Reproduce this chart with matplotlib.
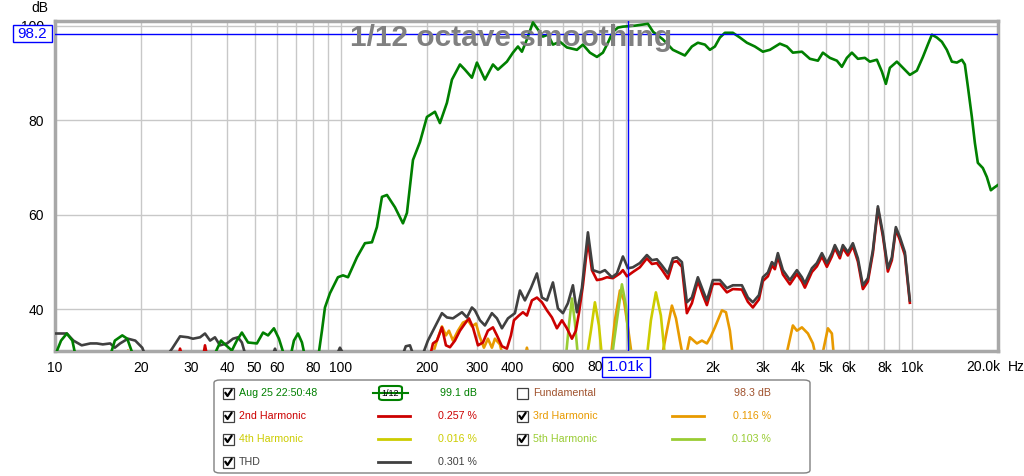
import matplotlib
matplotlib.use("Agg")
import matplotlib.pyplot as plt
from matplotlib.patches import Rectangle, FancyBboxPatch
from matplotlib.lines import Line2D

plt.rcParams['font.family'] = ['Liberation Sans', 'DejaVu Sans']

# --- Datos (Hz, dB) ---
meas_f = [10, 10.5, 11.0, 11.5, 11.8, 15.6, 16.2, 17.2, 17.9, 18.8, 36.0, 38.1, 39.7, 41.6,
          43.3, 45.1, 47.4, 50.9, 53.5, 55.7, 58.4, 60.8, 62.8, 63.8, 66.5, 68.6, 70.9, 73.2,
          75.0, 83.3, 86.0, 88.1, 91.7, 97.8, 101.9, 106.1, 114, 121.6, 128.7, 133.9, 139.5,
          145.2, 154.9, 165.2, 170.6, 179.1, 189.5, 200.4, 213.8, 222.6, 235.5, 245.2, 261.6,
          272.3, 288, 299.9, 319.9, 341.2, 355.3, 381.9, 400.9, 417.4, 431, 448.7, 471, 490.4,
          510.5, 531.5, 553.4, 585.5, 619.4, 671.4, 704.7, 745.6, 788.9, 827.9, 862, 897.4,
          934.3, 972.8, 1071, 1190, 1241, 1343, 1455, 1603, 1696, 1780, 1884, 1961, 2042,
          2126, 2213, 2360, 2497, 2642, 2818, 3006, 3181, 3447, 3648, 3828, 4117, 4391, 4684,
          4875, 5158, 5458, 5682, 5916, 6160, 6465, 6839, 7120, 7534, 7845, 8102, 8367, 8851,
          9290, 9828, 10400, 10920, 11360, 11740, 12220, 12720, 13240, 13790, 14360, 14950,
          15310, 15690, 16200, 16600, 17000, 17700, 18280, 18880, 19340, 19980]
meas_db = [30.2, 33.4, 34.9, 33.4, 30.2, 30.2, 33.4, 34.5, 33.8, 30.2, 30.2, 33.4, 32.4, 31.3,
           33.4, 35.1, 33.0, 32.8, 35.1, 34.5, 36.0, 33.8, 31.1, 29.6, 29.6, 33.4, 34.9, 33.0,
           30.0, 29.6, 35.5, 40.4, 43.4, 46.8, 47.2, 46.8, 51.0, 54.0, 54.2, 57.4, 63.8,
           64.2, 61.6, 58.2, 60.4, 71.6, 75.4, 80.7, 81.8, 79.4, 83.7, 88.6, 91.8,
           90.7, 89.0, 92.2, 88.6, 91.8, 90.7, 92.4, 94.3, 95.6, 94.5, 97.1, 100.7, 99.2,
           97.7, 98.1, 96.0, 96.6, 95.4, 94.9, 96.0, 94.3, 93.4, 94.3, 96.4, 98.7,
           99.6, 99.8, 100.0, 100.4, 98.7, 97.1, 94.9, 93.7, 95.6, 96.4, 96.0, 94.9, 95.6,
           97.5, 98.5, 98.5, 97.5, 96.4, 95.6, 94.5, 94.9, 96.2, 95.6, 94.3, 94.5, 93.0, 92.6,
           94.3, 93.2, 92.6, 91.3, 93.2, 94.3, 93.0, 93.2, 92.4, 92.8, 90.3, 87.7, 91.1, 92.4,
           91.1, 89.6, 90.5, 93.4, 96.0, 98.1, 97.5, 96.6, 94.9, 92.4, 92.2, 92.8,
           91.8, 87.1, 80.7, 75.2, 71.0, 69.9, 68.0, 65.2, 65.7, 66.3]

thd_f = [10, 11.0, 11.6, 12.4, 13.3, 14.0, 14.7, 15.6, 16.2, 16.9, 18.0, 19.1, 20.2, 20.8,
         24.5, 25.7, 27.4, 29.2, 30.4, 32.2, 33.5, 34.9, 36.3, 37.8, 40.0, 42.0, 43.7, 45.1,
         46.6, 57.5, 58.9, 60.3, 96.3, 99.4, 103.5, 164, 169, 174.8, 180.5, 192.5, 202,
         210.4, 226.2, 235.5, 247.2, 265.8, 276.7, 288, 295.1, 307.2, 319.9, 338.4, 352.4,
         366.9, 385.1, 407.4, 424.2, 441.6, 463.4, 486.4, 506.4, 527.2, 553.4, 576.2, 599.8,
         624.4, 650.1, 671.4, 698.9, 733.7, 763.8, 808.1, 841.4, 890.2, 926.9, 972.8, 1013,
         1054, 1115, 1180, 1229, 1279, 1332, 1398, 1455, 1503, 1565, 1629, 1696, 1780, 1854,
         1914, 2009, 2126, 2249, 2360, 2538, 2664, 2773, 2911, 3006, 3130, 3233, 3311, 3392,
         3532, 3737, 3954, 4117, 4217, 4462, 4645, 4837, 5035, 5242, 5370, 5591, 5728, 5964,
         6209, 6465, 6730, 7007, 7295, 7596, 7907, 8232, 8501, 8779, 9068, 9441, 9828]
thd_db = [34.9, 34.9, 33.4, 32.4, 32.8, 32.8, 32.6, 32.8, 31.9, 32.8, 33.8, 33.4, 31.9, 30.0,
          30.0, 31.7, 34.3, 34.1, 33.8, 34.1, 34.9, 33.4, 34.1, 32.4, 32.8, 33.8, 34.1, 33.0,
          30.0, 30.0, 31.7, 30.0, 30.0, 31.9, 30.0, 30.0, 32.2, 32.4, 30.0, 30.0, 33.4,
          35.5, 39.2, 38.3, 38.1, 39.4, 38.3, 40.4, 39.8, 37.7, 36.6, 39.2, 38.1,
          36.0, 38.1, 39.2, 44.0, 41.9, 44.5, 47.6, 42.5, 41.9, 45.7, 40.2, 39.2,
          41.3, 45.1, 39.4, 44.5, 56.3, 48.3, 47.8, 48.3, 46.8, 47.6, 51.2, 48.7,
          48.9, 49.8, 51.5, 50.4, 50.6, 49.3, 47.6, 50.8, 51.0, 50.0, 41.5, 42.5, 46.8, 44.0,
          41.9, 46.2, 46.2, 44.5, 45.1, 45.1, 42.5, 41.5, 43.0, 46.8, 47.8, 50.0, 49.3, 51.9,
          48.3, 46.2, 48.3, 46.8, 45.5, 48.7, 49.8, 51.9, 49.8, 51.9, 53.6, 51.5, 53.6, 52.1,
          54.0, 50.8, 45.1, 46.6, 52.5, 61.8, 56.1, 48.7, 51.0, 57.4, 55.3, 52.1, 41.9]

h2_f = [27.0, 27.4, 27.9, 33.0, 33.5, 34.1, 205.3, 210.4, 217.3, 226.2, 233.6, 241.3, 251.2,
        261.6, 272.3, 281.2, 290.4, 302.4, 314.8, 327.7, 341.2, 352.4, 366.9, 381.9, 394.5,
        404.2, 420.8, 434.5, 448.7, 467.2, 486.4, 506.4, 527.2, 549, 571.5, 595.1, 619.4,
        645, 666, 682.3, 704.7, 733.7, 757.7, 788.9, 821.3, 855.1, 897.4, 949.6, 972.8, 1005,
        1054, 1115, 1180, 1229, 1279, 1332, 1398, 1455, 1503, 1565, 1629, 1696, 1780, 1854,
        1914, 2009, 2126, 2249, 2360, 2538, 2664, 2773, 2911, 3006, 3130, 3233, 3311, 3392,
        3532, 3737, 3954, 4117, 4217, 4462, 4645, 4837, 5035, 5242, 5370, 5591, 5728, 5964,
        6209, 6465, 6730, 7007, 7295, 7596, 7907, 8232, 8501, 8779, 9068, 9441, 9828]
h2_db = [30.0, 31.7, 30.0, 30.0, 32.4, 30.0, 30.0, 32.8, 33.4, 36.2, 32.4, 32.0, 33.4,
         35.5, 37.0, 38.1, 36.2, 32.4, 33.0, 35.5, 36.2, 34.5, 32.2, 31.7, 34.5,
         37.7, 38.7, 39.4, 38.7, 41.9, 42.5, 41.5, 39.8, 38.3, 36.0, 37.7, 36.0,
         33.8, 35.5, 39.2, 45.1, 54.6, 48.3, 46.2, 46.4, 46.8, 46.6, 47.6, 48.3, 47.0,
         47.9, 48.9, 50.8, 49.6, 49.8, 48.4, 46.5, 50.0, 50.2, 49.0, 39.2, 41.3, 46.0, 43.0,
         40.9, 45.4, 45.4, 43.6, 44.3, 44.2, 41.6, 40.4, 42.1, 46.0, 47.0, 49.3, 48.5, 51.2,
         47.4, 45.3, 47.5, 45.9, 44.6, 47.9, 49.1, 51.2, 49.0, 51.2, 53.0, 50.8, 53.0, 51.4,
         53.4, 50.1, 44.3, 45.9, 51.9, 61.3, 55.5, 48.0, 50.4, 56.9, 54.7, 51.5, 41.4]

h3_f = [17.9, 18.0, 18.4, 208.7, 217.3, 226.2, 233.6, 239.3, 247.2, 257.4, 267.9, 279, 288,
        297.6, 307.2, 317.3, 327.7, 338.4, 346.7, 361, 369.8, 441.6, 448.7, 456,
        883, 912, 949.6, 980.6, 1013, 1046, 1332, 1387, 1444, 1492, 1540, 1578,
        1616, 1669, 1766, 1839, 1914, 1977, 2042, 2161, 2232, 2304, 2360,
        3619, 3828, 3954, 4117, 4322, 4498, 4608, 4837, 5077, 5242, 5328]
h3_db = [30.0, 31.3, 30.0, 30.0, 33.4, 36.4, 34.5, 35.5, 33.4, 35.5, 37.2, 37.7, 36.4,
         37.0, 34.1, 31.9, 33.8, 31.9, 33.8, 32.6, 30.0, 30.0, 31.9, 30.0,
         30.0, 37.7, 44.0, 41.9, 36.2, 30.0, 30.0, 35.5, 40.8, 38.1, 33.4, 30.0,
         30.0, 34.1, 32.8, 33.4, 32.8, 34.3, 36.2, 39.8, 39.4, 35.5, 30.0,
         30.0, 36.6, 35.5, 36.2, 34.9, 32.8, 30.0, 30.0, 36.0, 34.9, 30.0]

h4_f = [727.8, 751.6, 776.2, 801.7, 821.3, 1180, 1219, 1269, 1321, 1365]
h4_db = [30.0, 35.5, 41.5, 36.6, 30.0, 30.0, 37.7, 43.6, 38.7, 30.0]

h5_f = [614.5, 629.5, 645, 660.7, 677, 890.2, 926.9, 965.1, 996.6, 1029]
h5_db = [30.0, 36.6, 42.3, 37.2, 30.0, 30.0, 37.7, 45.3, 40.8, 30.0]

grid_f = [10, 20, 30, 40, 50, 60, 70, 80, 90, 100, 200, 300, 400, 500, 600, 700, 800, 900,
          1000, 2000, 3000, 4000, 5000, 6000, 7000, 8000, 9000, 10000]
# el 800 queda medio tapado por la caja del cursor: se dibuja aparte
tick_f = [10, 20, 30, 40, 50, 60, 80, 100, 200, 300, 400, 600,
          2000, 3000, 4000, 5000, 6000, 8000, 10000]
tick_lbl = ['10', '20', '30', '40', '50', '60', '80', '100', '200', '300', '400', '600',
            '2k', '3k', '4k', '5k', '6k', '8k', '10k']
y_ticks = [40, 60, 80, 100]

cursor_f = 1010
cursor_db = 98.2

# colores estilo REW
C_MEAS = '#008000'
C_H2 = '#cc0000'
C_H3 = '#e89a00'
C_H4 = '#cccc00'
C_H5 = '#99cc33'
C_THD = '#404040'
C_FUND = '#a0522d'

W, H = 1024, 476


def fx(px):
    return px / W


def fy(py):
    return 1 - py / H


fig = plt.figure(figsize=(W / 100, H / 100), dpi=100)
ax = fig.add_axes([fx(55), fy(351), fx(998) - fx(55), fy(20.5) - fy(351)])
ax.set_xscale('log')
ax.set_xlim(10, 20000)
ax.set_ylim(31.2, 101.1)

for f in grid_f:
    ax.axvline(f, color='#c8c8c8', lw=1, zorder=1)
for v in y_ticks:
    ax.axhline(v, color='#c8c8c8', lw=1, zorder=1)

ax.set_xticks(tick_f)
ax.set_xticklabels(tick_lbl)
ax.xaxis.set_minor_locator(matplotlib.ticker.NullLocator())
ax.set_yticks(y_ticks)
ax.tick_params(axis='both', length=0, labelsize=10, colors='#000000')
ax.tick_params(axis='x', pad=7)
ax.tick_params(axis='y', pad=8)

for s in ax.spines.values():
    s.set_color('#a8a8a8')
    s.set_linewidth(2.5)

# curvas
lw = 1.9
ax.plot(h3_f, h3_db, color=C_H3, lw=lw, zorder=2)
ax.plot(h4_f, h4_db, color=C_H4, lw=lw, zorder=2)
ax.plot(h5_f, h5_db, color=C_H5, lw=lw, zorder=2)
ax.plot(h2_f, h2_db, color=C_H2, lw=lw, zorder=3)
ax.plot(thd_f, thd_db, color=C_THD, lw=lw, zorder=3)
ax.plot(meas_f, meas_db, color=C_MEAS, lw=lw, zorder=3)

# cursor
ax.axhline(cursor_db, color='#0000ff', lw=1, zorder=4)
ax.axvline(cursor_f, color='#0000ff', lw=1, zorder=4)

ax.text(0.484, 0.947, '1/12 octave smoothing', transform=ax.transAxes, ha='center',
        va='center', fontsize=21.5, fontweight='bold', color='#808080', zorder=5)

# etiquetas de ejes
fig.text(fx(40), fy(8), 'dB', ha='center', va='center', fontsize=10)
fig.text(fx(587.5), fy(367), '80', ha='left', va='center', fontsize=10)
fig.text(fx(983), fy(367), '20.0k', ha='center', va='center', fontsize=10)
fig.text(fx(1008), fy(367), 'Hz', ha='left', va='center', fontsize=10)

# cajas del cursor
fig.patches.append(Rectangle((fx(13), fy(42)), fx(52) - fx(13), fy(25) - fy(42),
                             transform=fig.transFigure, facecolor='white',
                             edgecolor='#0000ff', lw=1))
fig.text(fx(32.5), fy(34), '98.2', ha='center', va='center', fontsize=11, color='#0000ff')
fig.patches.append(Rectangle((fx(602), fy(377)), fx(650) - fx(602), fy(357) - fy(377),
                             transform=fig.transFigure, facecolor='white',
                             edgecolor='#0000ff', lw=1))
fig.text(fx(626), fy(367), '1.01k', ha='center', va='center', fontsize=11, color='#0000ff')

# leyenda
fig.patches.append(FancyBboxPatch((fx(214), fy(473)), fx(810) - fx(214), fy(380) - fy(473),
                                  boxstyle='round,pad=0,rounding_size=0.006',
                                  transform=fig.transFigure, facecolor='white',
                                  edgecolor='#808080', lw=1))


def checkbox(x, y, checked=True):
    fig.patches.append(Rectangle((fx(x), fy(y + 5.5)), fx(11), fy(0) - fy(11),
                                 transform=fig.transFigure, facecolor='white',
                                 edgecolor='#404040', lw=0.9))
    if checked:
        fig.lines.append(Line2D([fx(x + 2.5), fx(x + 4.5), fx(x + 8.5)],
                                [fy(y), fy(y + 3), fy(y - 3)],
                                transform=fig.transFigure, color='#000000', lw=1.6))


rows = [393, 416, 439, 462]
fs = 7.7
left_items = [('Aug 25 22:50:48', C_MEAS, None, '99.1 dB'),
              ('2nd Harmonic', C_H2, C_H2, '0.257 %'),
              ('4th Harmonic', C_H4, C_H4, '0.016 %'),
              ('THD', C_THD, C_THD, '0.301 %')]
right_items = [('Fundamental', C_FUND, None, '98.3 dB', False),
               ('3rd Harmonic', C_H3, C_H3, '0.116 %', True),
               ('5th Harmonic', C_H5, C_H5, '0.103 %', True)]

for (name, col, lcol, val), y in zip(left_items, rows):
    checkbox(223, y)
    fig.text(fx(239), fy(y), name, ha='left', va='center', fontsize=fs, color=col)
    if lcol is not None:
        fig.lines.append(Line2D([fx(378), fx(410)], [fy(y), fy(y)],
                                transform=fig.transFigure, color=lcol, lw=2))
    fig.text(fx(477), fy(y), val, ha='right', va='center', fontsize=fs, color=col)

for (name, col, lcol, val, chk), y in zip(right_items, rows):
    checkbox(517, y, chk)
    fig.text(fx(533), fy(y), name, ha='left', va='center', fontsize=fs, color=col)
    if lcol is not None:
        fig.lines.append(Line2D([fx(672), fx(704)], [fy(y), fy(y)],
                                transform=fig.transFigure, color=lcol, lw=2))
    fig.text(fx(771), fy(y), val, ha='right', va='center', fontsize=fs, color=col)

# icono de suavizado 1/12
fig.lines.append(Line2D([fx(373), fx(408)], [fy(393), fy(393)],
                        transform=fig.transFigure, color=C_MEAS, lw=1.5))
fig.patches.append(FancyBboxPatch((fx(379), fy(400)), fx(402) - fx(379), fy(386) - fy(400),
                                  boxstyle='round,pad=0,rounding_size=0.004',
                                  transform=fig.transFigure, facecolor='white',
                                  edgecolor=C_MEAS, lw=1.5))
fig.text(fx(390.5), fy(393), '1/12', ha='center', va='center', fontsize=6.5, color='#000000')

fig.savefig('out.png', dpi=100, facecolor='white')
